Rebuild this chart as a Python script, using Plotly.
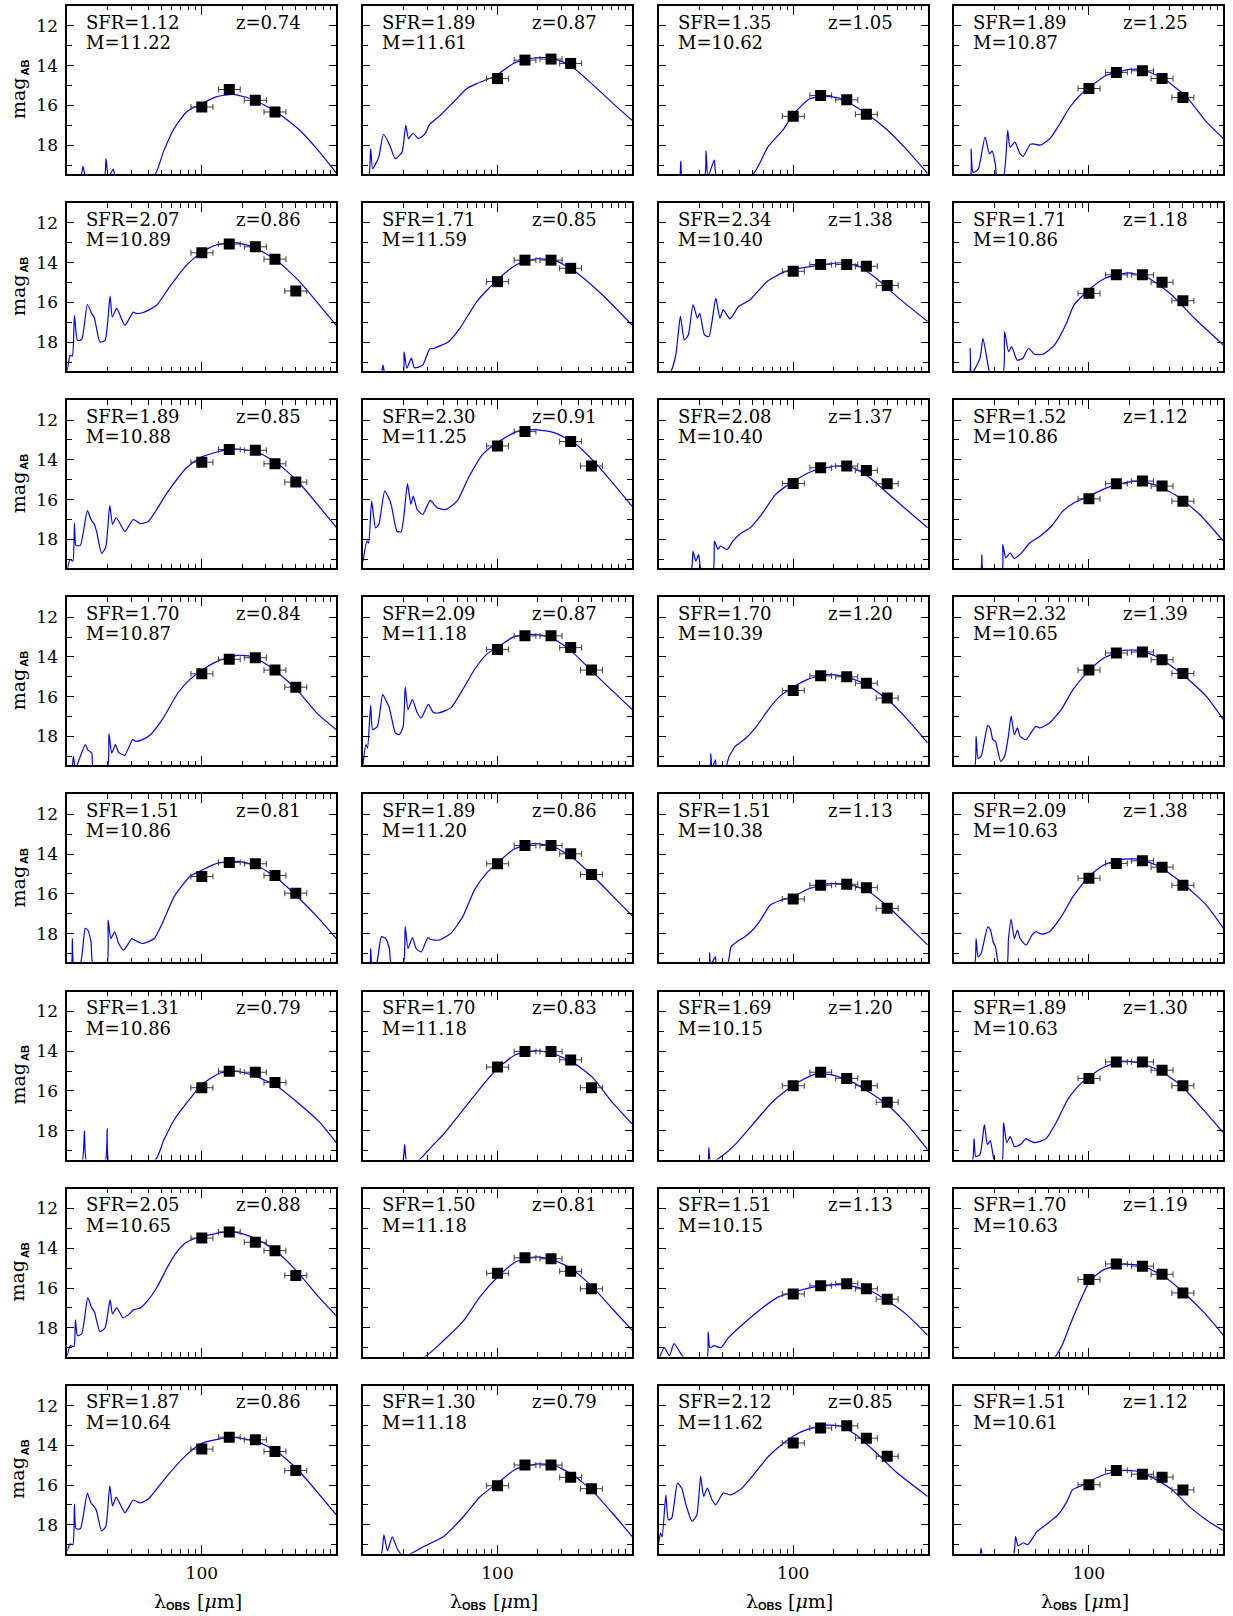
import plotly.graph_objects as go

# ---------------------------------------------------------------------------
# Layout of the 8 x 4 grid of SED panels (pixels of a 1233 x 1616 canvas)
# ---------------------------------------------------------------------------
FIG_W, FIG_H = 1233, 1616
NROW, NCOL = 8, 4
PANEL_X0, PANEL_DX, PANEL_W = 67.3, 295.7, 269.0
PANEL_Y0, PANEL_DY, PANEL_H = 6.0, 197.1, 168.0
SERIF = "DejaVu Serif"

# Herschel PACS/SPIRE bands [um] and the extent of the horizontal bars
bands = [100, 160, 250, 350, 500]
band_lo = [83, 133, 207, 290, 414]
band_hi = [121, 193, 302, 422, 603]

# Panel labels (row-major)
sfr_text = ["1.12", "1.89", "1.35", "1.89",
            "2.07", "1.71", "2.34", "1.71",
            "1.89", "2.30", "2.08", "1.52",
            "1.70", "2.09", "1.70", "2.32",
            "1.51", "1.89", "1.51", "2.09",
            "1.31", "1.70", "1.69", "1.89",
            "2.05", "1.50", "1.51", "1.70",
            "1.87", "1.30", "2.12", "1.51"]
mass_text = ["11.22", "11.61", "10.62", "10.87",
             "10.89", "11.59", "10.40", "10.86",
             "10.88", "11.25", "10.40", "10.86",
             "10.87", "11.18", "10.39", "10.65",
             "10.86", "11.20", "10.38", "10.63",
             "10.86", "11.18", "10.15", "10.63",
             "10.65", "11.18", "10.15", "10.63",
             "10.64", "11.18", "11.62", "10.61"]
z_text = ["0.74", "0.87", "1.05", "1.25",
          "0.86", "0.85", "1.38", "1.18",
          "0.85", "0.91", "1.37", "1.12",
          "0.84", "0.87", "1.20", "1.39",
          "0.81", "0.86", "1.13", "1.38",
          "0.79", "0.83", "1.20", "1.30",
          "0.88", "0.81", "1.13", "1.19",
          "0.86", "0.79", "0.85", "1.12"]

# ---------------------------------------------------------------------------
# Best-fit SED templates: observed wavelength [um] and AB magnitude
# ---------------------------------------------------------------------------
wl_r1c1 = [10, 12.5, 13.1, 13.7, 18.8, 19.4, 20.2, 22, 22.8, 44, 51.7, 61.2, 76.9, 100, 128, 171, 240, 359, 535, 752, 1000]
mag_r1c1 = [19.6, 19.6, 19.07, 19.6, 19.6, 18.68, 19.6, 19.2, 19.6, 19.55, 18.35, 17.25, 16.33, 15.91, 15.57, 15.45, 15.7, 16.33, 17.25, 18.35, 19.4]

wl_r1c2 = [10, 11.0, 11.4, 11.8, 13.1, 14.2, 15.8, 17.4, 19.5, 20.8, 21.8, 23.5, 25.9, 29, 31.2, 37.5, 47.1, 59.2, 70.2, 83.2, 98.8, 131, 175, 246, 346, 515, 725, 1000]
mag_r1c2 = [19.6, 19.6, 18.18, 19.18, 18.6, 17.45, 18.0, 18.68, 18.35, 17.0, 17.67, 17.4, 17.67, 17.42, 16.97, 16.5, 15.83, 15.15, 14.9, 14.7, 14.48, 13.89, 13.64, 13.6, 13.98, 14.98, 15.91, 16.75]

wl_r1c3 = [10, 14.2, 14.6, 15.0, 21.8, 22.5, 23.2, 25.9, 27, 49.6, 64.7, 84.6, 100, 131, 171, 222, 290, 377, 494, 700, 1000]
mag_r1c3 = [19.6, 19.6, 18.8, 19.6, 19.6, 18.29, 19.6, 18.75, 19.6, 19.5, 18.1, 17.2, 16.45, 15.69, 15.53, 15.64, 16.05, 16.57, 17.2, 18.24, 19.43]

wl_r1c4 = [10, 13.1, 13.3, 13.7, 14.2, 15.1, 16.9, 18.2, 19.1, 20.2, 20.7, 23.1, 24.9, 25.9, 28.2, 30.7, 32.5, 36.5, 38.6, 43.3, 51.3, 60.9, 72.3, 85.8, 101.7, 135, 201, 253, 357, 531, 748, 1000]
mag_r1c4 = [19.6, 19.6, 18.18, 19.35, 19.35, 19.18, 17.59, 18.43, 18.3, 19.0, 19.6, 19.6, 17.25, 18.1, 17.85, 18.43, 18.56, 17.96, 17.93, 18.0, 17.67, 16.92, 16.08, 15.49, 15.07, 14.48, 14.19, 14.22, 14.65, 15.57, 16.83, 17.67]

wl_r2c1 = [10, 10.5, 10.9, 11.3, 11.9, 12.8, 14.1, 15.2, 15.9, 17.5, 19.1, 20.8, 21.6, 23.3, 26.8, 30.9, 32.5, 36.7, 46.1, 57.8, 76.9, 100, 128, 171, 240, 359, 535, 752, 1000]
mag_r2c1 = [19.42, 18.66, 18.7, 16.64, 17.9, 17.86, 16.1, 16.56, 16.78, 17.99, 17.9, 15.68, 16.73, 16.3, 17.15, 16.48, 16.55, 16.5, 16.14, 15.2, 14.12, 13.45, 13.11, 12.98, 13.2, 13.87, 14.96, 16.14, 17.15]

wl_r2c2 = [10, 13.6, 14.1, 14.6, 19.8, 20.2, 21.2, 22.9, 24.1, 27.8, 31.3, 33.8, 43.2, 52.5, 70.2, 100, 139, 196, 276, 405, 601, 1000]
mag_r2c2 = [19.6, 19.6, 19.15, 19.6, 19.6, 18.48, 19.3, 18.8, 19.28, 19.15, 18.34, 18.3, 17.97, 17.3, 15.95, 14.85, 14.09, 13.8, 13.92, 14.6, 15.61, 17.13]

wl_r2c3 = [10, 12.2, 13.4, 14.5, 15.5, 16.6, 18.0, 19.4, 20.2, 21.9, 23.6, 26.6, 28.5, 30.2, 33.9, 39.3, 47.8, 64.2, 86.1, 115, 171, 229, 307, 411, 609, 1000]
mag_r2c3 = [19.6, 19.5, 18.64, 16.7, 17.88, 17.63, 16.11, 16.79, 16.54, 17.63, 17.72, 15.78, 16.79, 16.37, 16.82, 16.2, 15.86, 14.93, 14.46, 14.26, 14.09, 14.0, 14.18, 14.77, 15.78, 16.96]

wl_r2c4 = [10, 12.9, 13.1, 13.4, 15.5, 16.3, 17.6, 18.5, 22.9, 23.6, 25.3, 26.6, 29.3, 32.3, 35.6, 39.3, 45.5, 55.4, 67.2, 77.7, 100, 133, 197, 277, 411, 609, 1000]
mag_r2c4 = [19.6, 19.6, 18.3, 19.6, 18.8, 17.8, 18.98, 19.6, 19.6, 17.46, 18.48, 18.22, 18.9, 18.8, 18.3, 18.6, 18.6, 18.14, 17.13, 16.11, 15.36, 14.77, 14.51, 14.77, 15.61, 16.79, 18.14]

wl_r3c1 = [10, 10.5, 11, 11.3, 11.6, 12.5, 14.1, 15, 15.9, 16.5, 18, 19.3, 20.7, 21.7, 23.1, 26.8, 30.9, 34.7, 40, 54.7, 76.9, 100, 165, 256, 360, 520, 1000]
mag_r3c1 = [19.5, 19.0, 19.1, 17.2, 18.3, 18.3, 16.55, 17.0, 17.25, 17.6, 18.7, 18.4, 16.3, 17.25, 16.9, 17.6, 17.0, 17.2, 17.1, 15.7, 14.4, 13.85, 13.45, 13.6, 14.15, 15.1, 17.4]

wl_r3c2 = [10, 10.7, 11, 11.6, 12.4, 13.1, 14.5, 15.5, 16.3, 17.9, 19.2, 20.2, 21.4, 22.7, 23.6, 25.3, 27.8, 31.6, 35.6, 41.2, 50, 60.8, 77.6, 100, 139, 187, 262, 369, 546, 1000]
mag_r3c2 = [19.1, 18.09, 18.18, 16.08, 17.42, 17.25, 15.57, 15.9, 16.33, 17.59, 17.62, 16.75, 15.2, 16.24, 15.82, 16.5, 16.75, 16.04, 16.41, 16.5, 16.08, 14.9, 13.72, 13.13, 12.58, 12.48, 12.63, 13.13, 14.23, 16.33]

wl_r3c3 = [10, 17.3, 18.0, 18.9, 19.8, 20.8, 25.3, 26.0, 27.6, 28.7, 32.3, 35.6, 41.3, 47.8, 58.1, 74.1, 101, 140, 207, 278, 372, 550, 1000]
mag_r3c3 = [19.6, 19.6, 18.6, 19.1, 18.77, 19.6, 19.6, 18.09, 18.51, 18.34, 18.51, 18.09, 17.67, 17.42, 16.75, 15.74, 15.07, 14.56, 14.31, 14.4, 14.9, 15.91, 17.42]

wl_r3c4 = [10, 15.6, 16.0, 16.4, 22.5, 22.9, 24.1, 26.0, 27.9, 32.3, 36.3, 43.3, 52.6, 64, 77.7, 100, 140, 217, 306, 452, 667, 1000]
mag_r3c4 = [19.6, 19.6, 18.77, 19.6, 19.6, 18.26, 18.93, 18.68, 18.97, 18.6, 18.18, 17.84, 17.34, 16.58, 16.16, 15.82, 15.37, 15.07, 15.24, 15.82, 16.75, 18.09]

wl_r4c1 = [10, 10.8, 11.1, 11.5, 13.6, 14.2, 15.2, 15.6, 19.8, 20.4, 21.4, 22.8, 24.1, 26.7, 30.6, 32.3, 36.2, 41.5, 50.8, 66.6, 81.6, 102, 131, 184, 241, 338, 508, 714, 1000]
mag_r4c1 = [19.6, 19.6, 19.0, 19.6, 18.41, 18.67, 18.84, 19.6, 19.6, 17.86, 18.84, 18.41, 18.8, 18.95, 18.16, 18.25, 18.16, 17.91, 17.15, 15.8, 15.13, 14.63, 14.21, 13.92, 13.99, 14.59, 15.64, 16.81, 17.66]

wl_r4c2 = [10, 10.5, 10.8, 11.4, 11.8, 12.8, 14.0, 14.7, 15.7, 17.4, 18.6, 19.9, 20.6, 21.6, 23.3, 25.3, 27.1, 30.6, 33.2, 36.7, 45.0, 55.2, 67.5, 82.9, 103, 133, 180, 244, 343, 516, 813, 1000]
mag_r4c2 = [19.42, 18.41, 18.58, 16.44, 17.66, 17.49, 15.89, 16.14, 16.56, 17.82, 17.91, 17.49, 15.5, 16.65, 16.14, 16.81, 17.07, 16.39, 16.78, 16.81, 16.56, 15.64, 14.63, 13.87, 13.45, 12.98, 12.86, 12.98, 13.62, 14.79, 16.06, 16.63]

wl_r4c3 = [10, 23.9, 24.4, 24.9, 26.4, 27, 31.2, 33.4, 35.7, 36.9, 43.7, 53.4, 65.3, 79.8, 100, 128, 178, 250, 348, 521, 728, 1000]
mag_r4c3 = [19.6, 19.6, 18.87, 19.6, 19.17, 19.6, 19.6, 19.0, 18.67, 18.5, 18.13, 17.49, 16.65, 15.97, 15.52, 15.13, 14.88, 15.0, 15.38, 16.23, 17.24, 18.33]

wl_r4c4 = [10, 14.0, 14.5, 15.0, 15.8, 17.7, 18.5, 19.3, 20.2, 22.1, 23.6, 25.2, 26.4, 27.9, 29.4, 30.8, 34.1, 37.7, 40.3, 43.1, 50.9, 62.3, 76.1, 99.5, 130, 182, 238, 333, 497, 744, 1000]
mag_r4c4 = [19.6, 19.6, 17.99, 19.1, 19.0, 17.44, 17.6, 18.16, 18.25, 19.26, 19.0, 17.99, 16.98, 17.91, 17.57, 17.99, 18.16, 17.74, 17.49, 17.57, 17.32, 16.65, 15.64, 14.71, 14.04, 13.67, 13.67, 14.04, 14.88, 15.97, 17.15]

wl_r5c1 = [10, 10.7, 10.9, 11.2, 12.5, 13.6, 14.2, 15.0, 15.6, 19.6, 20.1, 21.1, 22.5, 24.1, 26.3, 30.2, 31.6, 36.2, 44.3, 50.8, 62.3, 81.6, 102, 131, 184, 258, 362, 544, 760, 1000]
mag_r5c1 = [19.6, 19.6, 18.25, 19.6, 19.5, 17.74, 17.82, 18.41, 19.6, 19.6, 17.32, 18.25, 17.91, 18.5, 18.83, 18.25, 18.33, 18.5, 18.25, 17.49, 16.14, 15.13, 14.79, 14.46, 14.37, 14.59, 15.22, 16.31, 17.32, 18.25]

wl_r5c2 = [10, 11.2, 11.4, 11.7, 12.6, 13.7, 14.7, 15.7, 16.3, 19.8, 20.6, 21.6, 23.3, 24.8, 27.1, 30.4, 31.9, 36.7, 45.0, 55.2, 67.5, 82.9, 103, 133, 186, 260, 366, 516, 813, 1000]
mag_r5c2 = [19.6, 19.6, 18.75, 19.6, 19.5, 18.16, 18.25, 18.75, 19.6, 19.6, 17.66, 18.75, 18.2, 18.75, 18.92, 18.2, 18.3, 18.33, 17.99, 17.15, 15.8, 14.96, 14.37, 13.75, 13.48, 13.62, 14.21, 15.13, 16.48, 17.1]

wl_r5c3 = [10, 23.5, 23.9, 24.3, 26.4, 27, 32.3, 34.5, 38.2, 43.7, 49.9, 57.1, 67.5, 79.8, 100, 128, 178, 250, 348, 521, 728, 1000]
mag_r5c3 = [19.6, 19.6, 18.97, 19.6, 19.17, 19.6, 19.6, 18.67, 18.41, 18.16, 17.82, 17.32, 16.56, 16.34, 16.14, 15.77, 15.5, 15.52, 15.8, 16.73, 17.66, 18.58]

wl_r5c4 = [10, 14.0, 14.5, 15.0, 15.8, 17.7, 18.5, 19.4, 20.2, 21.5, 24.5, 25.2, 26.4, 27.9, 29.4, 30.8, 34.1, 37.7, 40.3, 44.6, 50.9, 62.3, 76.1, 99.5, 130, 182, 238, 333, 497, 744, 1000]
mag_r5c4 = [19.6, 19.6, 18.25, 19.17, 19.0, 17.66, 17.8, 18.41, 18.67, 19.6, 19.6, 18.33, 17.29, 18.25, 17.82, 18.25, 18.58, 18.08, 17.91, 18.03, 17.91, 17.15, 16.14, 15.13, 14.54, 14.26, 14.26, 14.63, 15.47, 16.56, 17.74]

wl_r6c1 = [10, 12.8, 13.4, 14.0, 19.0, 19.8, 20.6, 44.8, 52, 63, 82.6, 100, 137, 179, 254, 367, 523, 747, 1000]
mag_r6c1 = [19.6, 19.6, 18.0, 19.6, 19.6, 17.9, 19.6, 19.5, 18.5, 17.4, 16.35, 15.68, 15.1, 15.0, 15.27, 15.79, 16.62, 17.56, 18.6]

wl_r6c2 = [10, 19.5, 20.4, 21.2, 25.7, 33.4, 39.7, 56.6, 80.5, 101, 136, 193, 261, 359, 509, 722, 1000]
mag_r6c2 = [19.6, 19.6, 18.7, 19.6, 19.5, 18.7, 18.18, 16.88, 15.58, 14.85, 14.18, 13.97, 14.13, 14.54, 15.32, 16.62, 17.66]

wl_r6c3 = [10, 23.0, 23.6, 24.3, 31.9, 38.2, 54.3, 70.8, 101, 144, 186, 251, 357, 508, 697, 1000]
mag_r6c3 = [19.6, 19.6, 18.85, 19.6, 19.1, 18.6, 17.4, 16.52, 15.69, 15.17, 15.17, 15.43, 16.0, 16.73, 17.66, 18.96]

wl_r6c4 = [10, 13.5, 14.0, 14.4, 15.5, 16.7, 17.6, 18.5, 20, 22.5, 23.2, 24.5, 26, 28, 31, 34, 36, 40, 48, 58, 70, 85, 100, 130, 180, 240, 330, 480, 700, 1000]
mag_r6c4 = [19.6, 19.6, 18.4, 19.3, 19.2, 17.7, 18.7, 18.5, 19.6, 19.6, 17.6, 18.6, 18.3, 18.8, 18.7, 18.4, 18.5, 18.6, 18.4, 17.5, 16.4, 15.7, 15.3, 14.8, 14.5, 14.6, 14.95, 15.7, 16.9, 18.1]

wl_r7c1 = [10, 10.5, 11.2, 11.5, 11.9, 12.8, 14.2, 15.2, 15.9, 17.5, 19.1, 20.8, 21.7, 23.3, 26, 29, 31, 35, 40, 47, 55, 65, 75, 90, 110, 140, 180, 250, 350, 500, 750, 1000]
mag_r7c1 = [19.4, 18.9, 18.95, 17.6, 18.4, 18.3, 16.5, 17.0, 17.2, 18.2, 18.0, 16.6, 17.3, 17.0, 17.5, 17.3, 17.1, 17.0, 16.6, 15.9, 15.0, 14.2, 13.75, 13.5, 13.35, 13.2, 13.2, 13.5, 14.1, 15.1, 16.5, 17.4]

wl_r7c2 = [10, 28, 39.7, 56.6, 73.8, 101, 136, 193, 261, 359, 509, 722, 1000]
mag_r7c2 = [19.6, 19.5, 18.64, 17.6, 16.46, 15.42, 14.69, 14.43, 14.59, 15.05, 15.94, 17.08, 18.12]

wl_r7c3 = [10, 11, 12, 13, 14.6, 16, 22.7, 23.3, 24, 25.8, 29, 33, 41.6, 59.5, 77, 101, 144, 204, 265, 377, 508, 697, 1000]
mag_r7c3 = [19.6, 19.0, 19.4, 18.8, 19.3, 19.6, 19.6, 18.2, 19.0, 18.9, 19.0, 18.5, 17.86, 16.98, 16.46, 16.2, 15.94, 15.83, 15.89, 16.15, 16.67, 17.34, 18.38]

wl_r7c4 = [10, 55, 63, 75, 101, 127, 181, 249, 354, 520, 743, 1000]
mag_r7c4 = [19.6, 19.5, 18.9, 17.6, 15.68, 15.1, 14.8, 14.9, 15.37, 16.3, 17.34, 18.38]

wl_r8c1 = [10, 10.5, 11, 11.3, 11.6, 12.5, 14.1, 15, 15.9, 16.5, 18, 19.3, 20.7, 21.7, 23.1, 26.8, 30.9, 34.7, 40, 54.7, 76.9, 100, 165, 256, 360, 520, 1000]
mag_r8c1 = [19.3, 18.95, 19.0, 16.95, 18.18, 18.2, 16.41, 16.9, 17.09, 17.3, 18.3, 18.1, 16.04, 17.05, 16.6, 17.39, 16.75, 16.9, 16.7, 15.57, 14.48, 13.9, 13.6, 13.8, 14.3, 15.24, 17.5]

wl_r8c2 = [10, 13.5, 14.3, 15.2, 16.5, 18, 20, 28, 39.7, 56.6, 73.8, 101, 136, 193, 261, 359, 509, 722, 1000]
mag_r8c2 = [19.6, 19.6, 18.5, 19.3, 18.6, 19.2, 19.6, 19.1, 18.58, 17.54, 16.6, 15.88, 15.2, 14.94, 15.0, 15.46, 16.3, 17.44, 18.58]

wl_r8c3 = [10, 10.3, 10.6, 11.3, 11.8, 12.5, 13.8, 14.8, 15.5, 16.1, 17.7, 19.2, 20.5, 21.6, 23.0, 24.9, 26.5, 30.2, 34.3, 41.7, 50.7, 65.6, 85, 110, 162, 225, 291, 403, 594, 1000]
mag_r8c3 = [18.92, 18.42, 18.6, 16.49, 17.75, 17.66, 15.9, 16.15, 16.66, 17.08, 17.83, 17.5, 15.56, 16.57, 16.15, 16.74, 16.99, 16.4, 16.49, 16.15, 15.48, 14.55, 13.88, 13.38, 12.99, 13.04, 13.46, 14.3, 15.39, 16.57]

wl_r8c4 = [10, 15.3, 15.8, 16.3, 27.2, 28.5, 29.8, 32.5, 35.1, 41.1, 47.7, 58.9, 68.7, 75.4, 88, 100, 129, 179, 232, 301, 416, 575, 747, 1000]
mag_r8c4 = [19.6, 19.6, 19.18, 19.6, 19.6, 18.59, 19.06, 18.9, 19.0, 18.34, 18.0, 17.5, 16.82, 16.24, 16.03, 15.82, 15.48, 15.26, 15.31, 15.65, 16.24, 17.16, 17.75, 18.3]

sed_wl = [wl_r1c1, wl_r1c2, wl_r1c3, wl_r1c4,
          wl_r2c1, wl_r2c2, wl_r2c3, wl_r2c4,
          wl_r3c1, wl_r3c2, wl_r3c3, wl_r3c4,
          wl_r4c1, wl_r4c2, wl_r4c3, wl_r4c4,
          wl_r5c1, wl_r5c2, wl_r5c3, wl_r5c4,
          wl_r6c1, wl_r6c2, wl_r6c3, wl_r6c4,
          wl_r7c1, wl_r7c2, wl_r7c3, wl_r7c4,
          wl_r8c1, wl_r8c2, wl_r8c3, wl_r8c4]
sed_mag = [mag_r1c1, mag_r1c2, mag_r1c3, mag_r1c4,
           mag_r2c1, mag_r2c2, mag_r2c3, mag_r2c4,
           mag_r3c1, mag_r3c2, mag_r3c3, mag_r3c4,
           mag_r4c1, mag_r4c2, mag_r4c3, mag_r4c4,
           mag_r5c1, mag_r5c2, mag_r5c3, mag_r5c4,
           mag_r6c1, mag_r6c2, mag_r6c3, mag_r6c4,
           mag_r7c1, mag_r7c2, mag_r7c3, mag_r7c4,
           mag_r8c1, mag_r8c2, mag_r8c3, mag_r8c4]

# ---------------------------------------------------------------------------
# Far-IR photometry: which bands were detected, and the AB magnitudes
# ---------------------------------------------------------------------------
ALL5 = [0, 1, 2, 3, 4]
phot_band_idx = [[0, 1, 2, 3], [0, 1, 2, 3], [0, 1, 2, 3], ALL5,
                 ALL5, [0, 1, 2, 3], ALL5, ALL5,
                 ALL5, [0, 1, 3, 4], ALL5, ALL5,
                 ALL5, ALL5, ALL5, ALL5,
                 ALL5, ALL5, ALL5, ALL5,
                 [0, 1, 2, 3], ALL5, ALL5, ALL5,
                 ALL5, ALL5, ALL5, ALL5,
                 ALL5, ALL5, ALL5, ALL5]
phot_mag = [[16.08, 15.2, 15.74, 16.33], [14.65, 13.72, 13.67, 13.89], [16.55, 15.5, 15.72, 16.45], [15.15, 14.34, 14.26, 14.65, 15.6],
            [13.5, 13.06, 13.2, 13.82, 15.42], [14.95, 13.87, 13.87, 14.28], [14.43, 14.09, 14.09, 14.18, 15.14], [15.54, 14.61, 14.61, 14.98, 15.91],
            [14.12, 13.48, 13.52, 14.2, 15.12], [13.3, 12.58, 13.08, 14.31], [15.19, 14.4, 14.31, 14.53, 15.2], [15.96, 15.2, 15.07, 15.32, 16.08],
            [14.85, 14.12, 14.04, 14.66, 15.52], [13.62, 12.94, 12.94, 13.53, 14.66], [15.69, 14.95, 15.0, 15.32, 16.07], [14.66, 13.8, 13.75, 14.14, 14.83],
            [15.13, 14.42, 14.49, 15.08, 15.97], [14.49, 13.57, 13.57, 13.99, 15.03], [16.26, 15.57, 15.52, 15.69, 16.73], [15.22, 14.47, 14.34, 14.66, 15.57],
            [15.84, 15.01, 15.06, 15.58], [14.8, 14.02, 14.02, 14.44, 15.84], [15.74, 15.06, 15.37, 15.74, 16.57], [15.37, 14.54, 14.54, 14.96, 15.74],
            [13.49, 13.18, 13.7, 14.12, 15.37], [15.26, 14.48, 14.53, 15.16, 16.04], [16.3, 15.89, 15.78, 16.04, 16.56], [15.57, 14.79, 14.9, 15.31, 16.25],
            [14.19, 13.59, 13.72, 14.31, 15.27], [16.03, 14.99, 14.99, 15.61, 16.18], [13.88, 13.13, 13.02, 13.64, 14.55], [15.98, 15.26, 15.45, 15.6, 16.24]]

# Axis ticks
x_major = [100]
x_major_text = ["100"]
x_minor = [20, 30, 40, 50, 60, 70, 80, 90, 200, 300, 400, 500, 600, 700, 800, 900]
y_major = [12, 14, 16, 18]
y_minor = [11, 13, 15, 17, 19]
X_RANGE = [1, 3]          # log10 of 10 .. 1000 um
Y_RANGE = [19.45, 11]     # magnitudes, bright at the top


def panel_domain(r, c):
    x0 = (PANEL_X0 + PANEL_DX * c) / FIG_W
    x1 = (PANEL_X0 + PANEL_DX * c + PANEL_W) / FIG_W
    y1 = 1 - (PANEL_Y0 + PANEL_DY * r) / FIG_H
    y0 = 1 - (PANEL_Y0 + PANEL_DY * r + PANEL_H) / FIG_H
    return [x0, x1], [y0, y1]


def paper_x(px):
    return px / FIG_W


def paper_y(py):
    return 1 - py / FIG_H


fig = go.Figure()
layout_axes = {}
annotations = []
tick_font = dict(family=SERIF, size=17, color="black")
label_font = dict(family=SERIF, size=18, color="black")
title_font = dict(family=SERIF, size=19, color="black")
sub_font = dict(family="Liberation Sans", size=11, color="black", weight="bold")

for i in range(NROW * NCOL):
    r, c = divmod(i, NCOL)
    k = i + 1
    xa = "x" if k == 1 else f"x{k}"
    ya = "y" if k == 1 else f"y{k}"
    xdom, ydom = panel_domain(r, c)

    fig.add_trace(go.Scatter(
        x=sed_wl[i], y=sed_mag[i], mode="lines",
        line=dict(color="#0000ff", width=1.2, shape="spline", smoothing=0.55),
        xaxis=xa, yaxis=ya, hoverinfo="skip", showlegend=False))

    idx = phot_band_idx[i]
    px = [bands[j] for j in idx]
    fig.add_trace(go.Scatter(
        x=px, y=phot_mag[i], mode="markers",
        marker=dict(symbol="square", size=11, color="black", line=dict(width=0)),
        error_x=dict(type="data", symmetric=False,
                     array=[band_hi[j] - bands[j] for j in idx],
                     arrayminus=[bands[j] - band_lo[j] for j in idx],
                     color="#3a3a3a", thickness=1, width=3),
        xaxis=xa, yaxis=ya, hoverinfo="skip", showlegend=False))

    bottom = (r == NROW - 1)
    layout_axes["xaxis" if k == 1 else f"xaxis{k}"] = dict(
        type="log", range=X_RANGE, domain=xdom, anchor=ya,
        showline=True, linecolor="black", linewidth=1.8, mirror="allticks",
        ticks="inside", ticklen=9, tickwidth=1, tickcolor="black",
        tickmode="array", tickvals=x_major, ticktext=x_major_text,
        showticklabels=bottom, tickfont=tick_font, ticklabelstandoff=3,
        minor=dict(ticks="inside", ticklen=4.5, tickwidth=1, tickcolor="black",
                   tickmode="array", tickvals=x_minor, showgrid=False),
        showgrid=False, zeroline=False, fixedrange=True)
    layout_axes["yaxis" if k == 1 else f"yaxis{k}"] = dict(
        range=Y_RANGE, domain=ydom, anchor=xa,
        showline=True, linecolor="black", linewidth=1.8, mirror="allticks",
        ticks="inside", ticklen=7, tickwidth=1, tickcolor="black",
        tickmode="array", tickvals=y_major,
        showticklabels=(c == 0), tickfont=tick_font, ticklabelstandoff=4,
        minor=dict(ticks="inside", ticklen=5, tickwidth=1, tickcolor="black",
                   tickmode="array", tickvals=y_minor, showgrid=False),
        showgrid=False, zeroline=False, fixedrange=True)

    # Panel labels: star-formation rate, stellar mass, redshift
    xref, yref = f"{xa} domain", f"{ya} domain"
    annotations.append(dict(text=f"SFR={sfr_text[i]}", xref=xref, yref=yref,
                            x=17 / PANEL_W, y=1 - 16 / PANEL_H, xanchor="left",
                            yanchor="middle", showarrow=False, font=label_font))
    annotations.append(dict(text=f"M={mass_text[i]}", xref=xref, yref=yref,
                            x=17 / PANEL_W, y=1 - 36.5 / PANEL_H, xanchor="left",
                            yanchor="middle", showarrow=False, font=label_font))
    annotations.append(dict(text=f"z={z_text[i]}", xref=xref, yref=yref,
                            x=167 / PANEL_W, y=1 - 16 / PANEL_H, xanchor="left",
                            yanchor="middle", showarrow=False, font=label_font))

# y titles: "mag" with a small bold "AB" subscript, one per row
for r in range(NROW):
    yc = PANEL_Y0 + PANEL_DY * r + PANEL_H / 2
    annotations.append(dict(
        text="mag", xref="paper", yref="paper",
        x=paper_x(17.5), y=paper_y(yc + 8.5), textangle=-90,
        xanchor="center", yanchor="middle", showarrow=False,
        borderpad=0, font=title_font))
    annotations.append(dict(
        text="AB", xref="paper", yref="paper",
        x=paper_x(24.5), y=paper_y(yc - 22), textangle=-90,
        xanchor="center", yanchor="middle", showarrow=False,
        borderpad=0, font=sub_font))

# x titles: "λ" with a small bold "OBS" subscript and the unit, one per column
for c in range(NCOL):
    xc = PANEL_X0 + PANEL_DX * c + PANEL_W / 2
    annotations.append(dict(
        text="λ", xref="paper", yref="paper",
        x=paper_x(xc - 48.5), y=paper_y(1601), xanchor="left",
        yanchor="middle", showarrow=False, borderpad=0, font=title_font))
    annotations.append(dict(
        text="OBS", xref="paper", yref="paper",
        x=paper_x(xc - 36.5), y=paper_y(1606), xanchor="left",
        yanchor="middle", showarrow=False, borderpad=0, font=sub_font))
    annotations.append(dict(
        text="[<i>μ</i>m]", xref="paper", yref="paper",
        x=paper_x(xc - 6), y=paper_y(1601), xanchor="left",
        yanchor="middle", showarrow=False, borderpad=0, font=title_font))

fig.update_layout(
    width=FIG_W, height=FIG_H, autosize=False,
    margin=dict(l=0, r=0, t=0, b=0),
    paper_bgcolor="white", plot_bgcolor="white",
    showlegend=False, annotations=annotations,
    **layout_axes)

fig.write_html("out.html")
